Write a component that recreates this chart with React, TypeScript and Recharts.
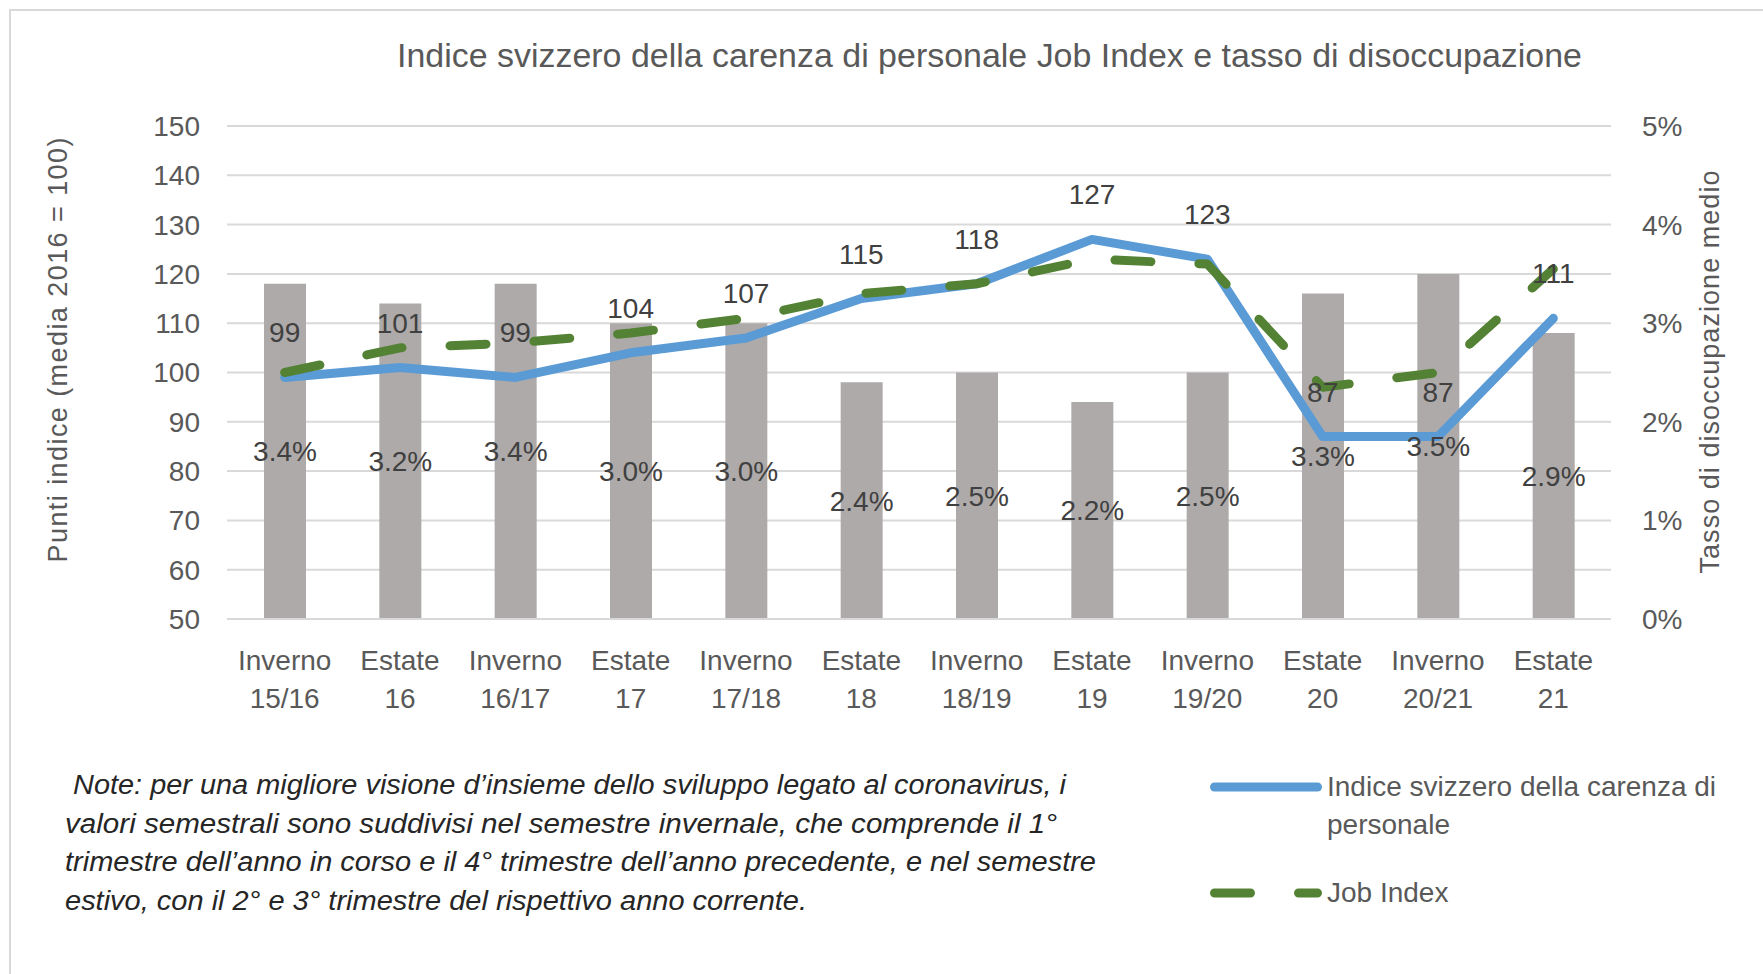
import React from "react";
import {
  ComposedChart,
  Bar,
  Line,
  XAxis,
  YAxis,
  CartesianGrid,
  LabelList,
  Label,
  Legend,
} from "recharts";

const categories = [
  "Inverno 15/16",
  "Estate 16",
  "Inverno 16/17",
  "Estate 17",
  "Inverno 17/18",
  "Estate 18",
  "Inverno 18/19",
  "Estate 19",
  "Inverno 19/20",
  "Estate 20",
  "Inverno 20/21",
  "Estate 21",
];
const shortageIndex = [99, 101, 99, 104, 107, 115, 118, 127, 123, 87, 87, 111];
const jobIndex = [100, 105, 106, 108, 111, 116, 118, 123, 122, 97, 100, 121];
const unemploymentRate = [3.4, 3.2, 3.4, 3.0, 3.0, 2.4, 2.5, 2.2, 2.5, 3.3, 3.5, 2.9];

const leftTicks = [50, 60, 70, 80, 90, 100, 110, 120, 130, 140, 150];
const rightTicks = [0, 1, 2, 3, 4, 5];

const TITLE =
  "Indice svizzero della carenza di personale Job Index e tasso di disoccupazione";
const NOTE_LINES = [
  " Note: per una migliore visione d’insieme dello sviluppo legato al coronavirus, i",
  "valori semestrali sono suddivisi nel semestre invernale, che comprende il 1°",
  "trimestre dell’anno in corso e il 4° trimestre dell’anno precedente, e nel semestre",
  "estivo, con il 2° e 3° trimestre del rispettivo anno corrente.",
];

const FONT = '"Liberation Sans", Arial, sans-serif';
const TEXT = "#595959";
const LABEL = "#404040";

const data = categories.map((category, i) => ({
  category,
  shortage: shortageIndex[i],
  jobIndex: jobIndex[i],
  unemployment: unemploymentRate[i],
}));

const CategoryTick = (props: any) => {
  const { x, y, payload } = props;
  const [first, second] = String(payload.value).split(" ");
  return (
    <text textAnchor="middle" fill={TEXT} fontSize={28} fontFamily={FONT}>
      <tspan x={x} y={y + 51}>
        {first}
      </tspan>
      <tspan x={x} y={y + 89}>
        {second}
      </tspan>
    </text>
  );
};

const LegendContent = (props: any) => {
  const items = (props.payload || []).filter((p: any) => p.type !== "none");
  return (
    <div style={{ fontFamily: FONT, fontSize: 28, color: TEXT }}>
      {items.map((entry: any, i: number) => (
        <div
          key={i}
          style={{ display: "flex", alignItems: "flex-start", marginBottom: 30 }}
        >
          <svg width={112} height={38} style={{ flex: "none" }}>
            <line
              x1={4.5}
              x2={107.5}
              y1={19}
              y2={19}
              stroke={entry.color}
              strokeWidth={9}
              strokeLinecap="round"
              strokeDasharray={entry.payload?.strokeDasharray}
            />
          </svg>
          <span style={{ marginLeft: 5, width: 420, lineHeight: "38px" }}>
            {entry.value}
          </span>
        </div>
      ))}
    </div>
  );
};

export default function App() {
  return (
    <div
      style={{
        position: "absolute",
        left: 0,
        top: 0,
        width: 1763,
        height: 974,
        overflow: "hidden",
        background: "#fff",
      }}
    >
      <div
        style={{
          position: "absolute",
          left: 9,
          top: 9,
          width: 1800,
          height: 1000,
          border: "2px solid #d9d9d9",
        }}
      />
      <svg
        width={1763}
        height={974}
        style={{ position: "absolute", left: 0, top: 0, pointerEvents: "none" }}
      >
        <text
          x={397}
          y={67}
          fontSize={33}
          fontFamily={FONT}
          fill={TEXT}
          textLength={1185}
          lengthAdjust="spacingAndGlyphs"
        >
          {TITLE}
        </text>
        {NOTE_LINES.map((line, i) => (
          <text
            key={i}
            x={65}
            y={[794, 833, 871, 910][i]}
            fontSize={27}
            fontStyle="italic"
            fontFamily={FONT}
            fill="#262626"
            textLength={[1001, 992, 1031, 742][i]}
            lengthAdjust="spacingAndGlyphs"
            style={{ whiteSpace: "pre" }}
          >
            {line}
          </text>
        ))}
      </svg>
      <div style={{ position: "absolute", left: 0, top: 0 }}>
        <ComposedChart
          width={1763}
          height={974}
          data={data}
          margin={{ top: 126, right: 22, bottom: 255, left: 57 }}
        >
          <CartesianGrid
            yAxisId="left"
            vertical={false}
            stroke="#d9d9d9"
            strokeWidth={2}
          />
          <XAxis
            dataKey="category"
            height={100}
            tick={<CategoryTick />}
            tickLine={false}
            tickSize={0}
            tickMargin={0}
            axisLine={{ stroke: "#d9d9d9", strokeWidth: 2 }}
            interval={0}
          />
          <YAxis
            yAxisId="left"
            orientation="left"
            width={170}
            domain={[50, 150]}
            ticks={leftTicks}
            interval={0}
            axisLine={false}
            tickLine={false}
            tickSize={0}
            tickMargin={27}
            tick={{ fill: TEXT, fontSize: 28, fontFamily: FONT }}
          >
            <Label
              content={() => (
                <text
                  transform="translate(58,350) rotate(-90)"
                  textAnchor="middle"
                  dominantBaseline="central"
                  fontSize={27}
                  fontFamily={FONT}
                  fill={TEXT}
                  textLength={425}
                  lengthAdjust="spacing"
                >
                  Punti indice (media 2016 = 100)
                </text>
              )}
            />
          </YAxis>
          <YAxis
            yAxisId="right"
            orientation="right"
            width={130}
            domain={[0, 5]}
            ticks={rightTicks}
            interval={0}
            axisLine={false}
            tickLine={false}
            tickSize={0}
            tickMargin={31}
            tickFormatter={(v: number) => `${v}%`}
            tick={{ fill: TEXT, fontSize: 28, fontFamily: FONT }}
          >
            <Label
              content={() => (
                <text
                  transform="translate(1710,372) rotate(-90)"
                  textAnchor="middle"
                  dominantBaseline="central"
                  fontSize={27}
                  fontFamily={FONT}
                  fill={TEXT}
                  textLength={403}
                  lengthAdjust="spacing"
                >
                  Tasso di disoccupazione medio
                </text>
              )}
            />
          </YAxis>
          <Legend
            layout="horizontal"
            verticalAlign="middle"
            align="center"
            content={<LegendContent />}
            wrapperStyle={{ left: 1210, top: 768, width: 550 }}
          />
          <Bar
            yAxisId="right"
            dataKey="unemployment"
            name="Tasso di disoccupazione"
            fill="#aeaaaa"
            barSize={42}
            legendType="none"
            isAnimationActive={false}
          >
            <LabelList
              dataKey="unemployment"
              position="inside"
              formatter={(v: any) => `${Number(v).toFixed(1)}%`}
              fill={LABEL}
              fontSize={28}
              fontFamily={FONT}
            />
          </Bar>
          <Line
            yAxisId="left"
            type="linear"
            dataKey="shortage"
            name="Indice svizzero della carenza di personale"
            stroke="#5b9bd5"
            strokeWidth={9}
            strokeLinejoin="round"
            strokeLinecap="round"
            dot={false}
            activeDot={false}
            isAnimationActive={false}
          >
            <LabelList
              dataKey="shortage"
              position="top"
              offset={35}
              fill={LABEL}
              fontSize={28}
              fontFamily={FONT}
            />
          </Line>
          <Line
            yAxisId="left"
            type="linear"
            dataKey="jobIndex"
            name="Job Index"
            stroke="#548235"
            strokeWidth={9}
            strokeDasharray="36 48"
            strokeLinecap="round"
            strokeLinejoin="round"
            dot={false}
            activeDot={false}
            isAnimationActive={false}
          />
        </ComposedChart>
      </div>
    </div>
  );
}
